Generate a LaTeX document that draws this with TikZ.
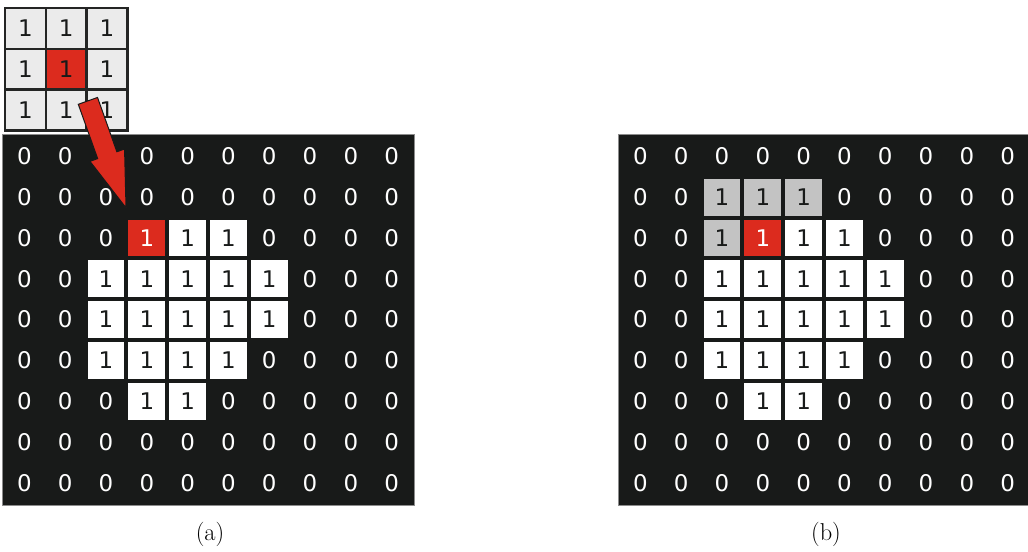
\documentclass[tikz,border=0pt]{standalone}
\usepackage{fontspec}
\usepackage{tikz}
\usetikzlibrary{positioning,calc}
\newfontfamily\cellfont{DejaVu Sans}
\newfontfamily\captfont{Latin Modern Roman}
\definecolor{ink}{RGB}{24,26,25}
\definecolor{mark}{RGB}{220,43,30}
\definecolor{kbg}{RGB}{235,235,235}
\definecolor{nbr}{RGB}{195,195,195}
\definecolor{rim}{RGB}{140,140,140}
\tikzset{
  cell/.style={draw=ink,line width=2.8pt,minimum size=1cm,inner sep=0pt,font=\cellfont\fontsize{16}{19}\selectfont},
  v0/.style={fill=ink,text=white,node contents=0},
  v1/.style={fill=white,text=ink,node contents=1},
  vr/.style={fill=mark,text=white,node contents=1},
  vg/.style={fill=nbr,text=ink,node contents=1},
  kcell/.style={draw=ink!95,line width=1.8pt,minimum size=1cm,inner sep=0pt,text=ink,font=\cellfont\fontsize{16}{19}\selectfont},
  k1/.style={fill=kbg,node contents=1},
  kr/.style={fill=mark,node contents=1},
  frame/.style={draw=rim,line width=0.6pt},
  pointer/.style={fill=mark,draw=ink,line width=0.7pt,line join=miter},
  capt/.style={font=\captfont\fontsize{17}{21}\selectfont,inner sep=0pt},
}
\begin{document}
\begin{tikzpicture}
\useasboundingbox (0,0) rectangle (25.196,-13.505);
\foreach \rowvals [count=\r from 0] in {
  {0,0,0,0,0,0,0,0,0,0},
  {0,0,0,0,0,0,0,0,0,0},
  {0,0,0,r,1,1,0,0,0,0},
  {0,0,1,1,1,1,1,0,0,0},
  {0,0,1,1,1,1,1,0,0,0},
  {0,0,1,1,1,1,0,0,0,0},
  {0,0,0,1,1,0,0,0,0,0},
  {0,0,0,0,0,0,0,0,0,0},
  {0,0,0,0,0,0,0,0,0,0}}
  \foreach \v [count=\c from 0] in \rowvals
    \node (a-\r-\c) at (0.598+\c,-3.833-\r) [cell,v\v];
\draw[frame] (a-0-0.north west) rectangle (a-8-9.south east);
\foreach \rowvals [count=\r from 0] in {
  {0,0,0,0,0,0,0,0,0,0},
  {0,0,g,g,g,0,0,0,0,0},
  {0,0,g,r,1,1,0,0,0,0},
  {0,0,1,1,1,1,1,0,0,0},
  {0,0,1,1,1,1,1,0,0,0},
  {0,0,1,1,1,1,0,0,0,0},
  {0,0,0,1,1,0,0,0,0,0},
  {0,0,0,0,0,0,0,0,0,0},
  {0,0,0,0,0,0,0,0,0,0}}
  \foreach \v [count=\c from 0] in \rowvals
    \node (b-\r-\c) at (15.696+\c,-3.833-\r) [cell,v\v];
\draw[frame] (b-0-0.north west) rectangle (b-8-9.south east);
\foreach \rowvals [count=\r from 0] in {{1,1,1},{1,r,1},{1,1,1}}
  \foreach \v [count=\c from 0] in \rowvals
    \node (k-\r-\c) at (0.623+\c,-0.696-\r) [kcell,k\v];
\coordinate (tail) at ([yshift=-2.45mm]k-1-1.south east);
\coordinate (tip) at ([shift={(0.4mm,1.9mm)}]a-2-3.north west);
\coordinate (neck) at ($(tip)!13.7mm!(tail)$);
\draw[pointer] ($(tail)!2.5mm!90:(tip)$) -- ($(neck)!2.5mm!90:(tip)$)
  -- ($(neck)!4.5mm!90:(tip)$) -- (tip) -- ($(neck)!4.5mm!-90:(tip)$)
  -- ($(neck)!2.5mm!-90:(tip)$) -- ($(tail)!2.5mm!-90:(tip)$) -- cycle;
\node[capt] (capa) at ([yshift=-7.2mm]a-8-4.south east) {(a)};
\node[capt] (capb) at ([yshift=-7.2mm]b-8-4.south east) {(b)};
\end{tikzpicture}
\end{document}
